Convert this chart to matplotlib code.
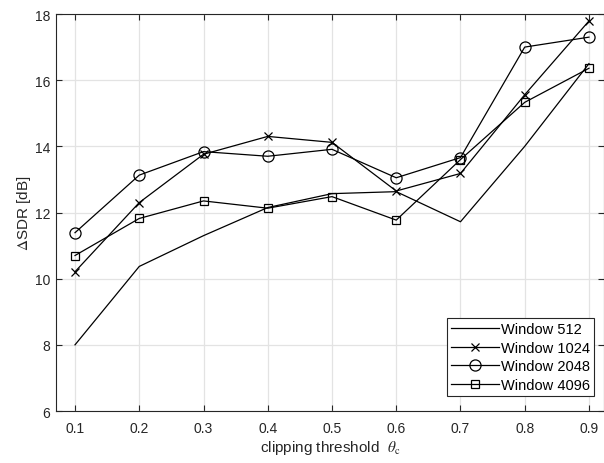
import matplotlib
matplotlib.use("Agg")
import matplotlib.pyplot as plt

theta = [0.1, 0.2, 0.3, 0.4, 0.5, 0.6, 0.7, 0.8, 0.9]
w512 = [8.0, 10.37, 11.3, 12.15, 12.57, 12.63, 11.72, 14.0, 16.5]
w1024 = [10.21, 12.3, 13.76, 14.3, 14.12, 12.65, 13.18, 15.56, 17.79]
w2048 = [11.39, 13.13, 13.84, 13.7, 13.91, 13.05, 13.66, 17.0, 17.3]
w4096 = [10.7, 11.82, 12.35, 12.13, 12.48, 11.77, 13.6, 15.33, 16.36]
labels = ["Window 512", "Window 1024", "Window 2048", "Window 4096"]
xticks = [0.1, 0.2, 0.3, 0.4, 0.5, 0.6, 0.7, 0.8, 0.9]
yticks = [6, 8, 10, 12, 14, 16, 18]

plt.rcParams['font.family'] = ['Liberation Sans', 'DejaVu Sans']
plt.rcParams['mathtext.fontset'] = 'stix'

W, H = 604, 464
fig = plt.figure(figsize=(W / 100, H / 100), dpi=100)
ax = fig.add_axes([56 / W, 1 - 412 / H, 548 / W, 397 / H])

dark = '#262626'
lw = 0.9
ax.plot(theta, w512, color='black', lw=lw, label=labels[0])
ax.plot(theta, w1024, color='black', lw=lw, marker='x', ms=6, mew=0.9, label=labels[1])
ax.plot(theta, w2048, color='black', lw=lw, marker='o', ms=8, mfc='none', mew=0.9, label=labels[2])
ax.plot(theta, w4096, color='black', lw=lw, marker='s', ms=6, mfc='none', mew=0.9, label=labels[3])

ax.set_xlim(0.0704, 0.9234)
ax.set_ylim(6, 18)
ax.set_xticks(xticks)
ax.set_xticklabels([f"{t:.1f}" for t in xticks])
ax.set_yticks(yticks)
ax.grid(True, color='#e3e3e3', lw=0.9)
ax.set_axisbelow(True)
ax.tick_params(direction='in', top=True, right=True, length=4, width=0.8,
               colors=dark, labelsize=10, labelcolor=dark)
ax.tick_params(axis='y', pad=4.3)
ax.tick_params(axis='x', pad=7.5)
for s in ax.spines.values():
    s.set_color(dark)
    s.set_linewidth(0.8)

ax.set_xlabel(r'clipping threshold  $\theta_{\mathrm{c}}$', fontsize=11, color=dark, labelpad=2)
ax.set_ylabel(r'$\Delta$SDR [dB]', fontsize=11, color=dark, labelpad=1)

leg = ax.legend(loc='lower right', bbox_to_anchor=(594 / W, 1 - 397 / H), bbox_transform=fig.transFigure,
                fontsize=10.5, frameon=True, fancybox=False, handlelength=3.3,
                handletextpad=0.1, borderpad=0.3, labelspacing=0.3, borderaxespad=0)
leg.get_frame().set_edgecolor(dark)
leg.get_frame().set_linewidth(0.8)
leg.get_frame().set_alpha(1)

fig.savefig('out.png', dpi=100)
